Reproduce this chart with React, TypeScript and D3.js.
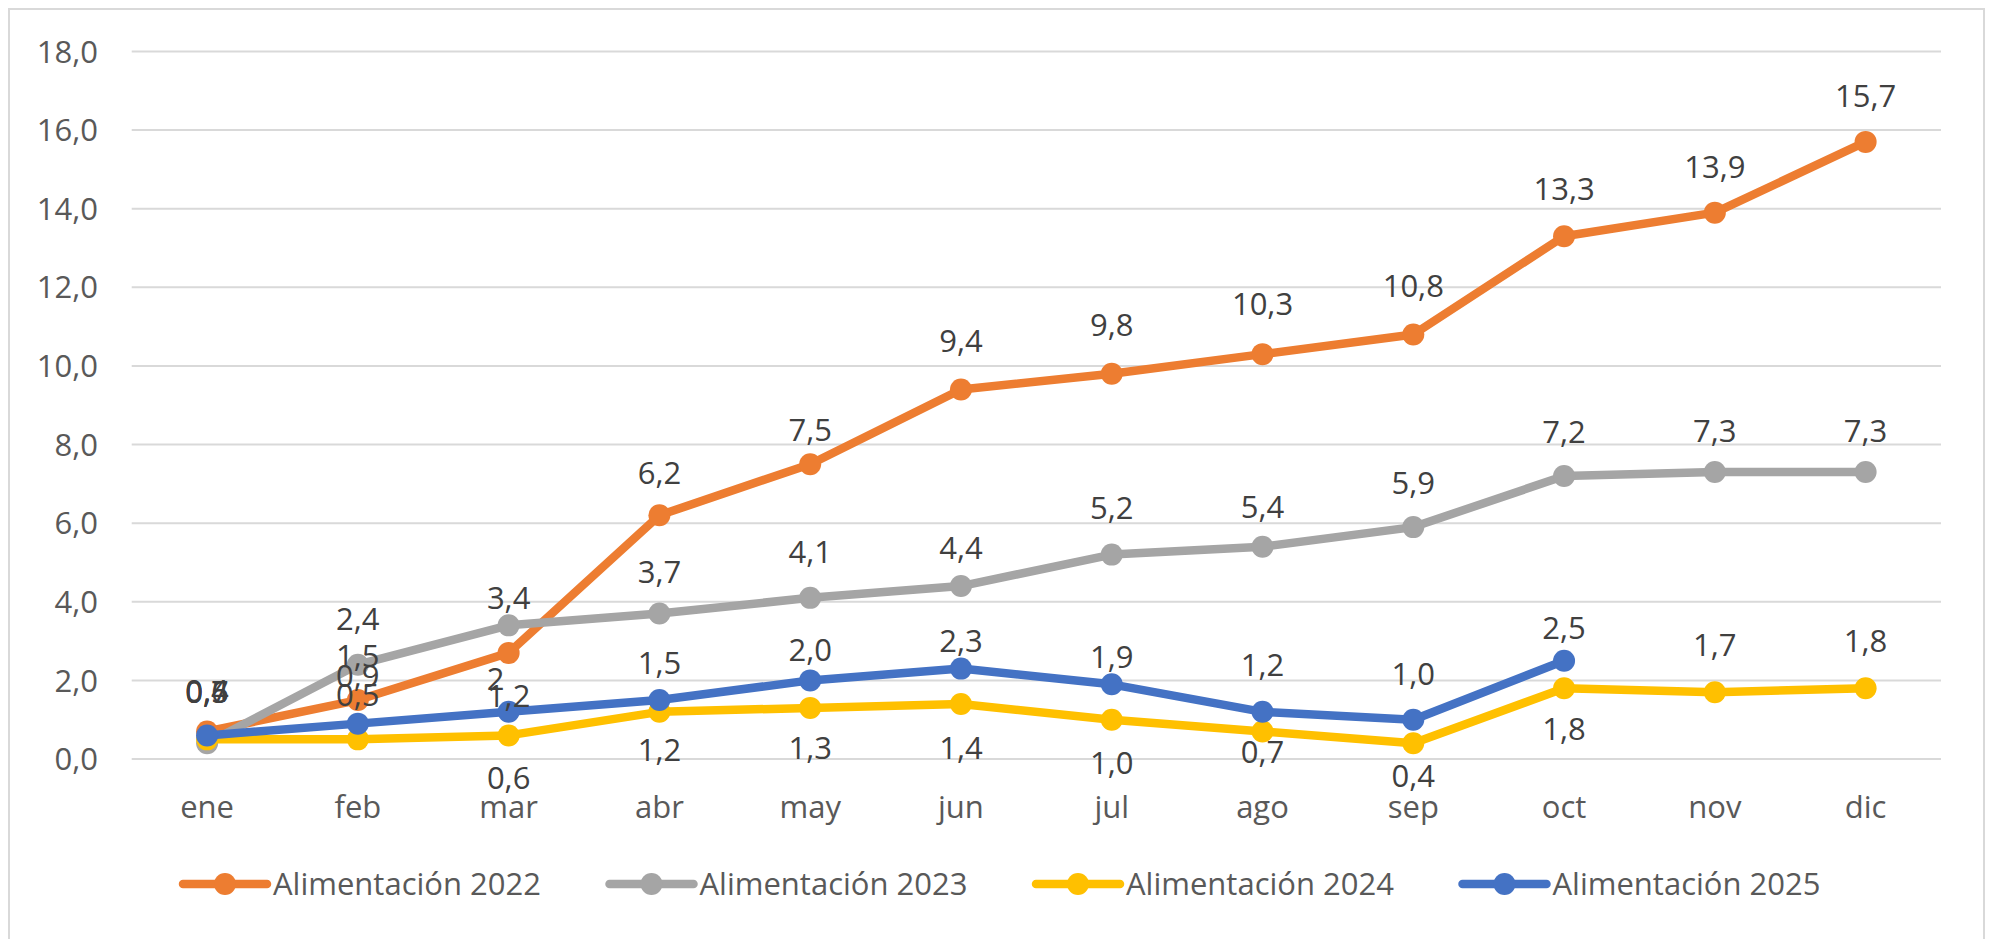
import React from "react";
import * as d3 from "d3";

// chart data
const months = ["ene", "feb", "mar", "abr", "may", "jun", "jul", "ago", "sep", "oct", "nov", "dic"];
const yTicks = [0, 2, 4, 6, 8, 10, 12, 14, 16, 18];
const seriesNames = ["Alimentación 2022", "Alimentación 2023", "Alimentación 2024", "Alimentación 2025"];
const values2022 = [0.7, 1.5, 2.7, 6.2, 7.5, 9.4, 9.8, 10.3, 10.8, 13.3, 13.9, 15.7];
const values2023 = [0.4, 2.4, 3.4, 3.7, 4.1, 4.4, 5.2, 5.4, 5.9, 7.2, 7.3, 7.3];
const values2024 = [0.5, 0.5, 0.6, 1.2, 1.3, 1.4, 1.0, 0.7, 0.4, 1.8, 1.7, 1.8];
const values2025 = [0.6, 0.9, 1.2, 1.5, 2.0, 2.3, 1.9, 1.2, 1.0, 2.5];
// label text as it shows on the chart (one label of 2022 reads "2")
const labelOverride2022: Record<number, string> = { 2: "2" };

const colors = ["#ED7D31", "#A5A5A5", "#FFC000", "#4472C4"];

// label placement (px offset of label centre from its point), hand tuned like the original
const labelDy2022 = [-40, -44, 26, -42, -34, -49, -49, -50, -49, -47, -46, -46];
const labelDy2023 = [-52, -46, -28, -42, -46, -38, -47, -40, -44, -44, -41, -41];
const labelDy2024 = [-48, -45, 42, 38, 40, 44, 43, 20, 33, 41, -47, -47];
const labelDy2025 = [-44, -48, -16, -37, -31, -28, -27, -47, -46, -33];
const labelDx2022 = [0, 0, -13, 0, 0, 0, 0, 0, 0, 0, 0, 0];

const W = 1990;
const H = 939;
const FONT = "'Open Sans', 'Noto Sans', sans-serif";

export default function App() {
  const x = d3.scaleBand<string>().domain(months).range([131.7, 1941]);
  const y = d3.scaleLinear().domain([0, 18]).range([759, 51.5]);
  const cx = (i: number) => (x(months[i]) as number) + x.bandwidth() / 2;
  const fmt = (v: number) => d3.format(".1f")(v).replace(".", ",");

  const series = [
    { name: seriesNames[0], values: values2022, color: colors[0], dy: labelDy2022, dx: labelDx2022, over: labelOverride2022 },
    { name: seriesNames[1], values: values2023, color: colors[1], dy: labelDy2023, dx: [], over: {} },
    { name: seriesNames[2], values: values2024, color: colors[2], dy: labelDy2024, dx: [], over: {} },
    { name: seriesNames[3], values: values2025, color: colors[3], dy: labelDy2025, dx: [], over: {} },
  ];

  const line = d3
    .line<number>()
    .x((_, i) => cx(i))
    .y((d) => y(d));

  const legendStart = 183;
  const legendStride = 426.5;
  const legendY = 884;

  return (
    <svg
      width={W}
      height={H}
      style={{ position: "fixed", left: 0, top: 0, background: "#fff" }}
      fontFamily={FONT}
    >
      <rect x={0} y={0} width={W} height={H} fill="#fff" />
      {/* gridlines + y labels */}
      {yTicks.map((t) => (
        <g key={t}>
          <line x1={131.7} x2={1941} y1={y(t)} y2={y(t)} stroke="#D9D9D9" strokeWidth={2} />
          <text x={98} y={y(t)} dy="0.36em" textAnchor="end" fontSize={31} fill="#595959">
            {fmt(t)}
          </text>
        </g>
      ))}
      {/* category labels */}
      {months.map((m, i) => (
        <text key={m} x={cx(i)} y={807} dy="0.36em" textAnchor="middle" fontSize={31} fill="#595959">
          {m}
        </text>
      ))}
      {/* lines and markers */}
      {series.map((s) => (
        <g key={s.name}>
          <path
            d={line(s.values) || ""}
            fill="none"
            stroke={s.color}
            strokeWidth={8.5}
            strokeLinejoin="round"
            strokeLinecap="round"
          />
          {s.values.map((v, i) => (
            <circle key={i} cx={cx(i)} cy={y(v)} r={11} fill={s.color} />
          ))}
        </g>
      ))}
      {/* data labels */}
      {series.map((s) => (
        <g key={s.name + "-lbl"}>
          {s.values.map((v, i) => (
            <text
              key={i}
              x={cx(i) + (s.dx[i] || 0)}
              y={y(v) + s.dy[i]}
              dy="0.36em"
              textAnchor="middle"
              fontSize={31}
              fill="#404040"
            >
              {(s.over as Record<number, string>)[i] ?? fmt(v)}
            </text>
          ))}
        </g>
      ))}
      {/* legend */}
      {series.map((s, k) => {
        const x0 = legendStart + k * legendStride;
        return (
          <g key={s.name + "-leg"}>
            <line
              x1={x0}
              x2={x0 + 84}
              y1={legendY}
              y2={legendY}
              stroke={s.color}
              strokeWidth={8.5}
              strokeLinecap="round"
            />
            <circle cx={x0 + 42} cy={legendY} r={11} fill={s.color} />
            <text x={x0 + 90} y={legendY} dy="0.36em" fontSize={31} fill="#595959">
              {s.name}
            </text>
          </g>
        );
      })}
      {/* chart border */}
      <rect x={9} y={9} width={1975} height={940} fill="none" stroke="#D9D9D9" strokeWidth={2} />
    </svg>
  );
}
